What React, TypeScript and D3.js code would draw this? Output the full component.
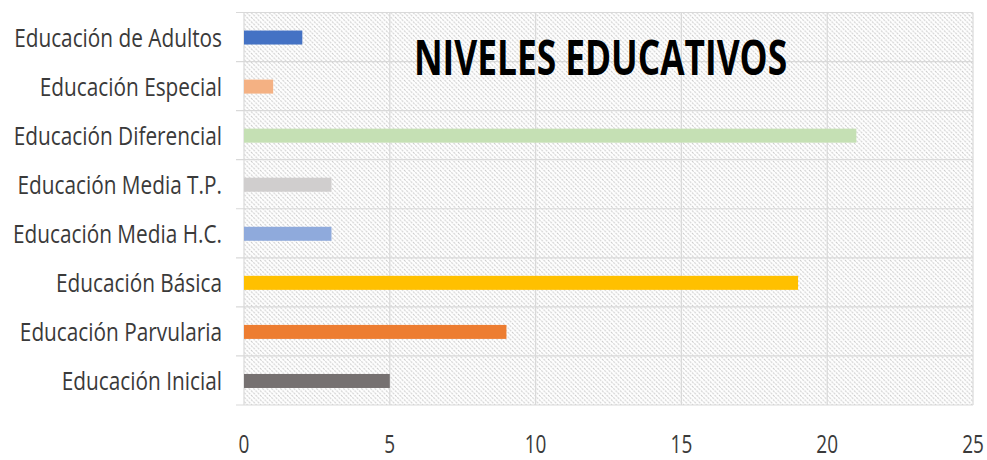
import React, { useEffect, useRef } from "react";
import * as d3 from "d3";

const categories = [
  "Educación de Adultos",
  "Educación Especial",
  "Educación Diferencial",
  "Educación Media T.P.",
  "Educación Media H.C.",
  "Educación Básica",
  "Educación Parvularia",
  "Educación Inicial",
];
const values = [2, 1, 21, 3, 3, 19, 9, 5];
const colors = ["#4472C4", "#F4B183", "#C5E0B4", "#D0CECE", "#8FAADC", "#FFC000", "#ED7D31", "#767171"];
const xTicks = [0, 5, 10, 15, 20, 25];
const title = "NIVELES EDUCATIVOS";

const W = 987;
const H = 460;
const left = 244;
const right = 973;
const top = 12.5;
const bottom = 405;

export default function App() {
  const ref = useRef<SVGSVGElement>(null);

  useEffect(() => {
    const svg = d3.select(ref.current);
    svg.selectAll("*").remove();

    const x = d3.scaleLinear().domain([0, 25]).range([left, right]);
    const y = d3.scaleBand().domain(categories).range([top, bottom]).paddingInner(0).paddingOuter(0);
    const barH = 14;

    const defs = svg.append("defs");
    const pat = defs
      .append("pattern")
      .attr("id", "hatch")
      .attr("patternUnits", "userSpaceOnUse")
      .attr("width", 4.5)
      .attr("height", 4.5);
    pat.append("rect").attr("width", 4.5).attr("height", 4.5).attr("fill", "#ffffff");
    pat
      .append("path")
      .attr("d", "M-1,-1 L5.5,5.5 M-1,3.5 L1,5.5 M3.5,-1 L5.5,1")
      .attr("stroke", "#c8c8c8")
      .attr("stroke-width", 1)
      .attr("stroke-dasharray", "2.2,1");

    svg.append("rect").attr("width", W).attr("height", H).attr("fill", "#fff");

    svg
      .append("rect")
      .attr("x", left)
      .attr("y", top)
      .attr("width", right - left)
      .attr("height", bottom - top)
      .attr("fill", "url(#hatch)");

    // vertical gridlines
    svg
      .append("g")
      .selectAll("line")
      .data(xTicks)
      .join("line")
      .attr("x1", (d) => x(d))
      .attr("x2", (d) => x(d))
      .attr("y1", top)
      .attr("y2", bottom)
      .attr("stroke", "#d9d9d9")
      .attr("stroke-width", 1.2);

    // horizontal category boundaries
    const bounds = categories.map((c) => y(c)!).concat([bottom]);
    svg
      .append("g")
      .selectAll("line")
      .data(bounds)
      .join("line")
      .attr("x1", left - 8)
      .attr("x2", right)
      .attr("y1", (d) => d)
      .attr("y2", (d) => d)
      .attr("stroke", "#d9d9d9")
      .attr("stroke-width", 1.2);

    // bars
    svg
      .append("g")
      .selectAll("rect")
      .data(values)
      .join("rect")
      .attr("x", x(0))
      .attr("y", (d, i) => y(categories[i])! + y.bandwidth() / 2 - barH / 2 + 0.5)
      .attr("width", (d) => x(d) - x(0))
      .attr("height", barH)
      .attr("fill", (d, i) => colors[i]);

    const font = "'Open Sans', 'DejaVu Sans', sans-serif";
    const sx = 0.8;

    // category labels
    const lg = svg.append("g");
    categories.forEach((c) => {
      lg.append("g")
        .attr("transform", `translate(222,${y(c)! + y.bandwidth() / 2 + 9.5}) scale(${sx},1)`)
        .append("text")
        .attr("text-anchor", "end")
        .attr("font-family", font)
        .attr("font-size", 26)
        .attr("fill", "#3a3a3a")
        .text(c);
    });

    // x tick labels
    const tg = svg.append("g");
    xTicks.forEach((t) => {
      tg.append("g")
        .attr("transform", `translate(${x(t)},453) scale(0.76,1)`)
        .append("text")
        .attr("text-anchor", "middle")
        .attr("font-family", font)
        .attr("font-size", 25)
        .attr("fill", "#3a3a3a")
        .text(String(t));
    });

    // title
    svg
      .append("g")
      .attr("transform", `translate(600.5,75) scale(0.735,1)`)
      .append("text")
      .attr("text-anchor", "middle")
      .attr("font-family", font)
      .attr("font-weight", 700)
      .attr("font-size", 48)
      .attr("fill", "#000")
      .text(title);
  }, []);

  return (
    <svg
      ref={ref}
      width={W}
      height={H}
      style={{ position: "absolute", left: 0, top: 0, display: "block" }}
    />
  );
}
